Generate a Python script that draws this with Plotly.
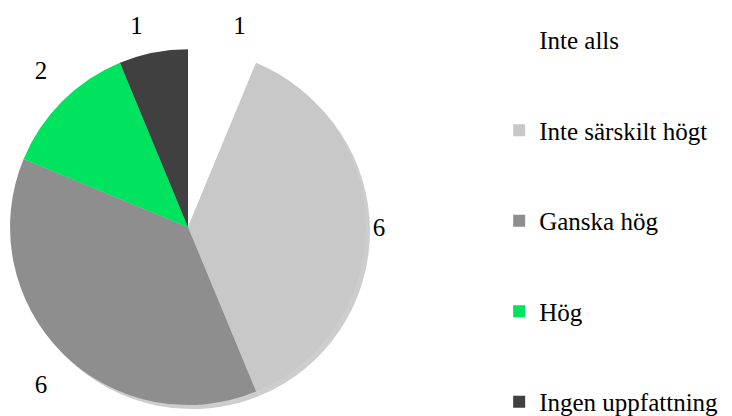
import plotly.graph_objects as go

categories = ["Inte alls", "Inte särskilt högt", "Ganska hög", "Hög", "Ingen uppfattning"]
values = [1, 6, 6, 2, 1]
colors = ["#FFFFFF", "#C8C8C8", "#8E8E8E", "#00E35E", "#404040"]

FONT = "Liberation Serif"
V = "<span style='font-size:25px'>%{value}</span>"
# blank lines push the top / bottom labels a bit further from the pie
templates = [V + "<br>&nbsp;", "%{value}", "&nbsp;<br>%{value}", "%{value}<br>&nbsp;", V + "<br>&nbsp;"]
label_sizes = [13, 25, 25, 25, 13]

fig = go.Figure()
# soft drop shadow under the pie
fig.add_trace(go.Pie(
    labels=categories, values=values, sort=False, direction="clockwise", rotation=0,
    marker=dict(colors=["#CDCDCD"] * len(values), line=dict(width=0)),
    textinfo="none", hoverinfo="skip", showlegend=False, automargin=False,
    domain=dict(x=[0.0083, 0.4945], y=[0.0356, 0.8916]),
))
fig.add_trace(go.Pie(
    labels=categories, values=values, sort=False, direction="clockwise", rotation=0,
    marker=dict(colors=colors, line=dict(width=0)),
    texttemplate=templates, textposition="outside",
    textfont=dict(family=FONT, size=label_sizes, color="#000000"),
    showlegend=False, hoverinfo="label+value", automargin=False,
    domain=dict(x=[0.0028, 0.489], y=[0.0452, 0.9012]),
))
for i, (c, col) in enumerate(zip(categories, colors)):
    fig.add_trace(go.Scatter(
        x=[None], y=[None], mode="markers", name=c,
        marker=dict(symbol="square", size=14, color=col, line=dict(width=0)),
        legendgroup=f"g{i}", showlegend=True,
    ))

fig.update_layout(
    width=732, height=416,
    margin=dict(l=0, r=0, t=0, b=0, autoexpand=False),
    paper_bgcolor="white", plot_bgcolor="white",
    xaxis=dict(visible=False), yaxis=dict(visible=False),
    legend=dict(x=0.671, y=0.9784, xanchor="left", yanchor="top",
                font=dict(family=FONT, size=25, color="#000000"),
                tracegroupgap=55, itemsizing="constant", bgcolor="rgba(0,0,0,0)"),
)
fig.write_html("out.html")
